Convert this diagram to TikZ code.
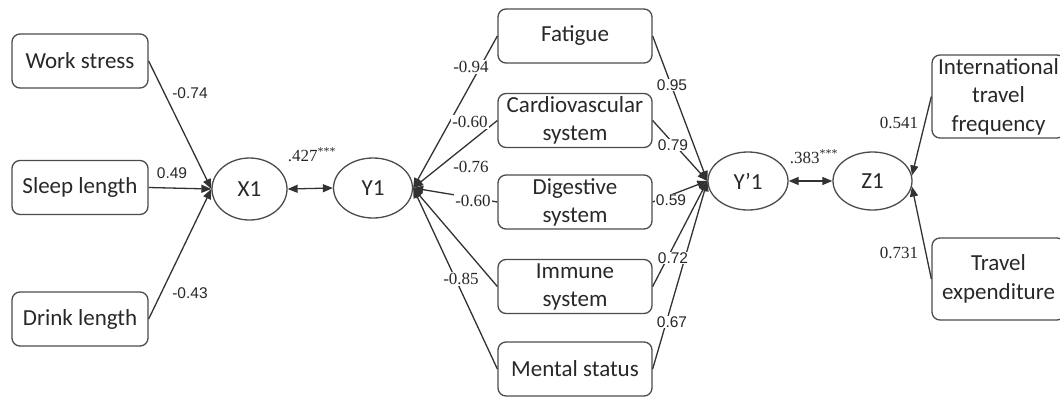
\documentclass[tikz,border=0pt]{standalone}
\usepackage{fontspec}
\setmainfont{Carlito}
\newfontfamily\numserif{Liberation Serif}
\newfontfamily\numsans{Liberation Sans}
\usetikzlibrary{arrows.meta,shapes.geometric}
\definecolor{boxgray}{RGB}{75,75,75}
\definecolor{linegray}{RGB}{50,50,50}
\definecolor{txtgray}{RGB}{40,40,40}
\begin{document}
\begin{tikzpicture}[x=1pt,y=-1pt,
  box/.style={draw=boxgray, line width=1.3pt, rounded corners=8pt, align=center,
    font=\fontsize{23}{28}\selectfont, text=txtgray, inner sep=0pt},
  leftbox/.style={box, minimum width=136pt, minimum height=54pt},
  midbox/.style={box, minimum width=154pt, minimum height=54pt},
  rightbox/.style={box, minimum width=133pt, minimum height=83pt, font=\fontsize{23}{28.5}\selectfont},
  latent/.style={draw=boxgray, line width=1.3pt, ellipse, inner sep=0pt,
    font=\fontsize{23}{28}\selectfont, text=txtgray},
  tip/.tip={Triangle[length=10pt,width=8pt]},
  conn/.style={draw=linegray, line width=1.3pt, -tip},
  dconn/.style={draw=linegray, line width=1.3pt, tip-tip},
  slab/.style={font=\numserif\fontsize{17}{17}\selectfont, text=txtgray, inner sep=1pt},
  flab/.style={slab, fill=white},
  nlab/.style={font=\numsans\fontsize{15.5}{15.5}\selectfont, text=txtgray, inner sep=1pt},
  rlab/.style={nlab, fill=white}
]
\useasboundingbox (0,0) rectangle (1060,397);

% left boxes
\node[leftbox] (ws) at (80,61) {Work stress};
\node[leftbox] (sl) at (80,187.5) {Sleep length};
\node[leftbox] (dl) at (80,319) {Drink length};

% latent variables
\node[latent, minimum width=75pt, minimum height=62pt] (x1) at (249.5,189) {X1};
\node[latent, minimum width=79pt, minimum height=60pt] (y1) at (373,188) {Y1};
\node[latent, minimum width=80pt, minimum height=58pt] (yp) at (748,181) {Y’1};
\node[latent, minimum width=79pt, minimum height=58pt] (z1) at (872.5,181) {Z1};

% middle boxes
\node[midbox] (fa) at (575,36) {Fatigue};
\node[midbox] (cv) at (575,120.5) {Cardiovascular\\system};
\node[midbox] (dg) at (575,202) {Digestive\\system};
\node[midbox] (im) at (575,286.5) {Immune\\system};
\node[midbox] (ms) at (575,369) {Mental status};

% right boxes
\node[rightbox] (it) at (998.5,96.5) {International\\travel\\frequency};
\node[rightbox, minimum height=82pt] (te) at (998.5,279) {Travel\\expenditure};

% connectors
\draw[conn] (ws.east) -- (x1.west);
\draw[conn] (sl.east) -- (x1.west);
\draw[conn] (dl.east) -- (x1.west);
\draw[dconn] (x1.east) -- (y1.west);

\foreach \b in {fa,cv,dg,im,ms}{
  \draw[conn] (\b.west) -- (y1.east);
  \draw[conn] (\b.east) -- (yp.west);
}
\draw[dconn] (yp.east) -- (z1.west);
\draw[conn] (it.west) -- (z1.8);
\draw[conn] (te.west) -- (z1.-8);

% labels
\node[nlab] (l1) at (190,93) {-0.74};
\node[nlab] (l2) at (172,173) {0.49};
\node[nlab] (l3) at (190,293) {-0.43};
\node[slab] (c1) at (312,155) {.427\textsuperscript{***}};
\node[slab] (c2) at (814,157) {.383\textsuperscript{***}};

\node[flab] (m1) at (471,67) {-0.94};
\node[flab] (m2) at (470,122) {-0.60};
\node[flab] (m3) at (471,167) {-0.76};
\node[flab] (m4) at (473,201) {-0.60};
\node[flab] (m5) at (461,279) {-0.85};

\node[rlab] (r1) at (672,85) {0.95};
\node[rlab] (r2) at (673,145) {0.79};
\node[rlab] (r3) at (671,200) {0.59};
\node[rlab] (r4) at (673,258) {0.72};
\node[rlab] (r5) at (672,322) {0.67};

\node[slab] (s1) at (899,123) {0.541};
\node[slab] (s2) at (899,253) {0.731};
\end{tikzpicture}
\end{document}
